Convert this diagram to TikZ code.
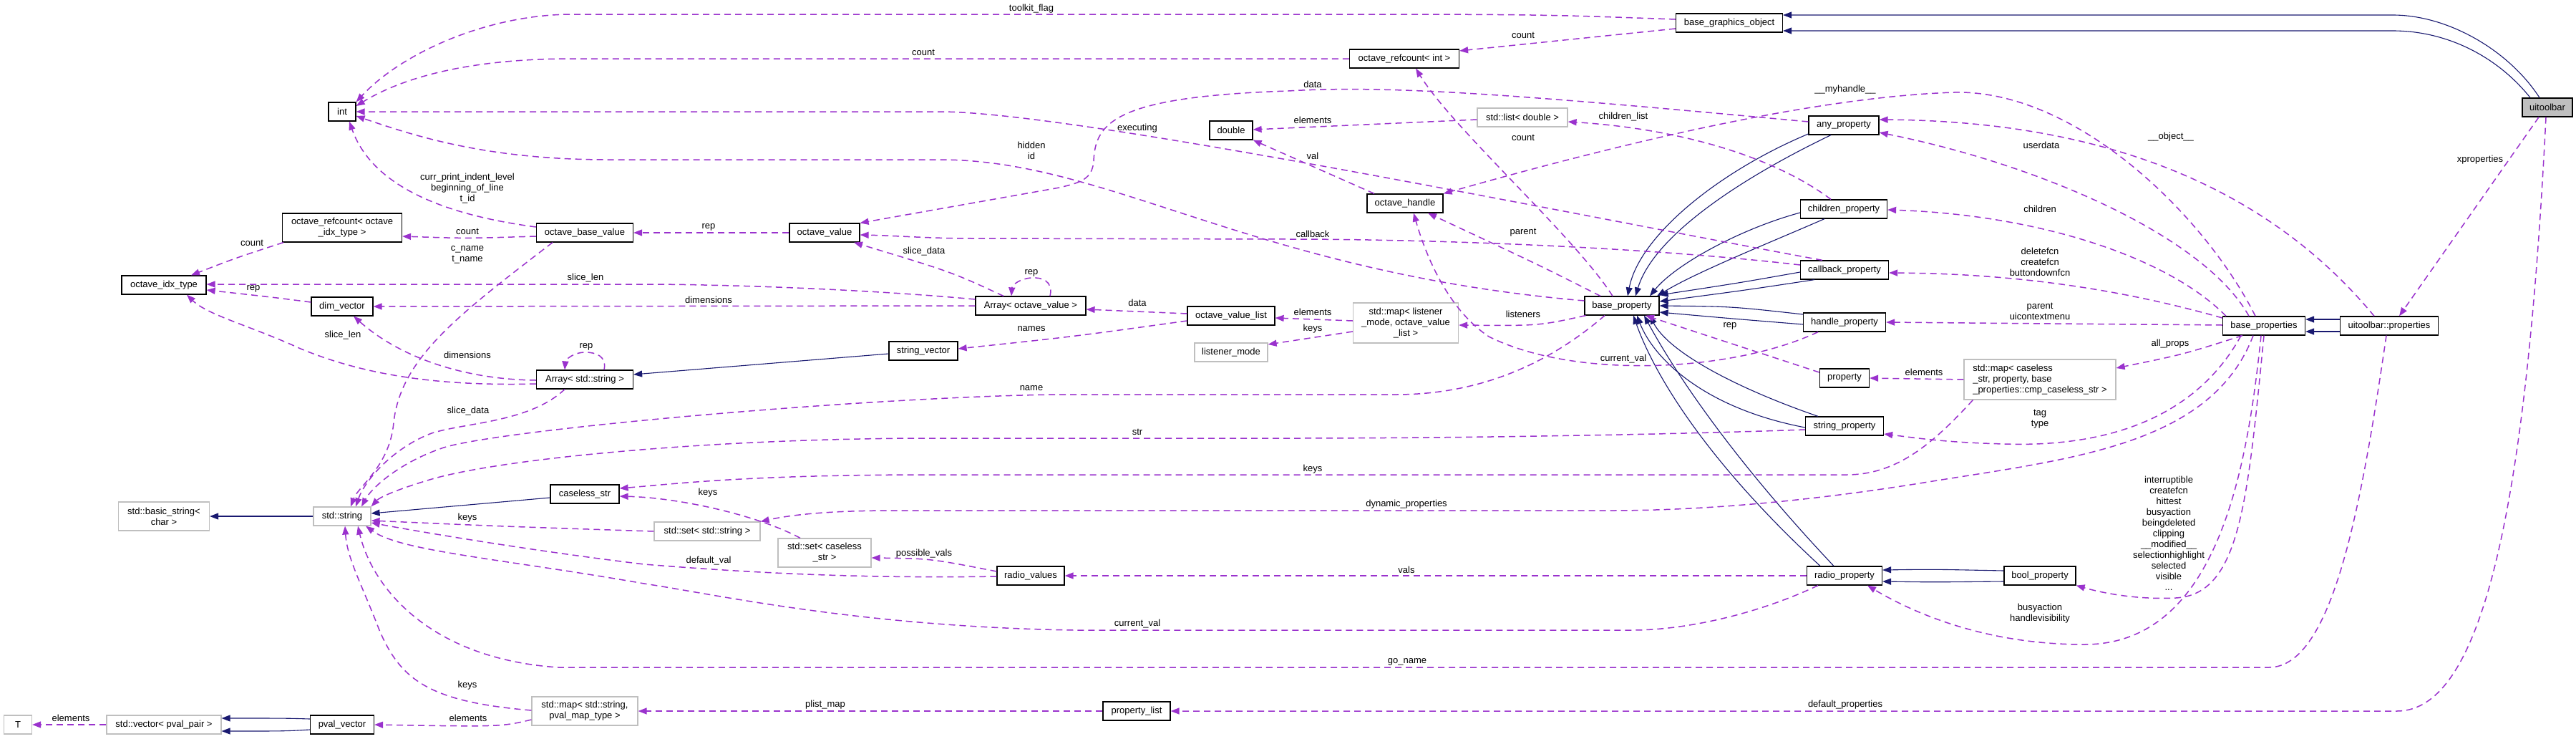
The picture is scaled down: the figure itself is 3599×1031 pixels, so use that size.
\documentclass[tikz,border=0pt]{standalone}
\usepackage{fontspec}
\setmainfont{Liberation Sans}
\usetikzlibrary{arrows.meta}
\definecolor{usecol}{HTML}{9A32CD}
\definecolor{inhcol}{HTML}{191970}
\definecolor{extgrey}{HTML}{BFBFBF}
\tikzstyle{cls} = [rectangle, draw=black, line width=1.2pt, fill=white, minimum height=26pt, inner sep=2pt, align=center]
\tikzstyle{extcls} = [cls, draw=extgrey]
\tikzstyle{curcls} = [cls, fill=extgrey]
\tikzstyle{dep} = [draw=usecol, line width=1.5pt, dash pattern=on 9pt off 6pt, -{Triangle[length=12pt,width=9pt]}, fill=none]
\tikzstyle{inh} = [draw=inhcol, line width=1.1pt, -{Triangle[length=12pt,width=9pt]}]
\tikzstyle{lbl} = [inner sep=0pt, align=center]

\begin{document}
\begin{tikzpicture}[x=1pt, y=-1pt, font=\fontsize{13}{15}\selectfont]
\useasboundingbox (0,0) rectangle (3599,1031);

% classes
\node (int) [cls, minimum width=38pt] at (478,156) {int};
\node (orefidx) [cls, minimum width=167pt, minimum height=40pt] at (478,318) {octave\_refcount< octave\\\_idx\_type >};
\node (obv) [cls, minimum width=135pt] at (817,325) {octave\_base\_value};
\node (oidx) [cls, minimum width=118pt] at (229,398) {octave\_idx\_type};
\node (dimv) [cls, minimum width=86pt] at (478,428) {dim\_vector};
\node (arrstr) [cls, minimum width=135pt] at (817,530) {Array< std::string >};
\node (stdstr) [extcls, minimum width=80pt] at (478,721) {std::string};
\node (bstr) [extcls, minimum width=127pt, minimum height=40pt] at (229,721) {std::basic\_string<\\char >};
\node (cstr) [cls, minimum width=96pt] at (817,690) {caseless\_str};
\node (setstr) [extcls, minimum width=148pt] at (988,742) {std::set< std::string >};
\node (setcstr) [extcls, minimum width=130pt, minimum height=40pt] at (1152,772) {std::set< caseless\\\_str >};
\node (rvals) [cls, minimum width=94pt] at (1440,804) {radio\_values};
\node (plist) [cls, minimum width=94pt] at (1588,993) {property\_list};
\node (mappval) [extcls, minimum width=148pt, minimum height=40pt] at (817,993) {std::map< std::string,\\pval\_map\_type >};
\node (pvalv) [cls, minimum width=89pt] at (478,1012) {pval\_vector};
\node (vecpp) [extcls, minimum width=160pt] at (229,1012) {std::vector< pval\_pair >};
\node (tpar) [extcls, minimum width=39pt] at (25,1012) {T};
\node (oval) [cls, minimum width=98pt] at (1152,325) {octave\_value};
\node (arrov) [cls, minimum width=154pt] at (1440,427) {Array< octave\_value >};
\node (svec) [cls, minimum width=96pt] at (1290,490) {string\_vector};
\node (ovl) [cls, minimum width=122pt] at (1720,441) {octave\_value\_list};
\node (lmode) [extcls, minimum width=102pt] at (1720,492) {listener\_mode};
\node (dbl) [cls, minimum width=60pt] at (1720,182) {double};
\node (orefint) [cls, minimum width=153pt] at (1962,82) {octave\_refcount< int >};
\node (listd) [extcls, minimum width=126pt] at (2127,164) {std::list< double >};
\node (ohandle) [cls, minimum width=106pt] at (1963,284) {octave\_handle};
\node (maplis) [extcls, minimum width=147pt, minimum height=56pt] at (1964,451) {std::map< listener\\\_mode, octave\_value\\\_list >};
\node (bprop) [cls, minimum width=104pt] at (2266,427) {base\_property};
\node (bgo) [cls, minimum width=149pt] at (2416,32) {base\_graphics\_object};
\node (anyp) [cls, minimum width=98pt] at (2576,175) {any\_property};
\node (childp) [cls, minimum width=121pt] at (2576,292) {children\_property};
\node (cbp) [cls, minimum width=123pt] at (2577,377) {callback\_property};
\node (hp) [cls, minimum width=115pt] at (2577,450) {handle\_property};
\node (prop) [cls, minimum width=69pt] at (2577,528) {property};
\node (sp) [cls, minimum width=109pt] at (2577,595) {string\_property};
\node (rp) [cls, minimum width=105pt] at (2577,804) {radio\_property};
\node (boolp) [cls, minimum width=100pt] at (2850,804) {bool\_property};
\node (mapcs) [extcls, minimum width=212pt, minimum height=56pt, align=left] at (2850,530) {std::map< caseless\\\_str, property, base\\\_properties::cmp\_caseless\_str >};
\node (bps) [cls, minimum width=115pt] at (3163,455) {base\_properties};
\node (utp) [cls, minimum width=137pt] at (3338,455) {uitoolbar::properties};
\node (uit) [curcls, minimum width=70pt] at (3559,150) {uitoolbar};

% inheritance
\draw [inh] ([xshift=-11pt]uit.north) .. controls (3505,70) and (3420,21) .. (3343,21) -- ([yshift=11pt]bgo.east);
\draw [inh] ([xshift=-24pt]uit.north) .. controls (3490,80) and (3420,43) .. (3343,43) -- ([yshift=-11pt]bgo.east);
\draw [inh] ([yshift=9pt]utp.west) -- ([yshift=9pt]bps.east);
\draw [inh] ([yshift=-8pt]utp.west) -- ([yshift=-8pt]bps.east);
\draw [inh] ([yshift=-4pt]svec.west) -- ([yshift=7pt]arrstr.east);
\draw [inh] ([yshift=-5pt]cstr.west) -- ([yshift=4pt]stdstr.east);
\draw [inh] (stdstr.west) -- (bstr.east);
\draw [inh] ([yshift=8pt]pvalv.west) .. controls (400,1003) .. ([yshift=9pt]vecpp.east);
\draw [inh] ([yshift=-7pt]pvalv.west) .. controls (400,1021) .. ([yshift=-9pt]vecpp.east);
\draw [inh] ([yshift=-12pt]anyp.west) .. controls (2400,240) and (2290,330) .. ([xshift=8pt]bprop.north);
\draw [inh] ([xshift=-18pt]anyp.south) .. controls (2430,250) and (2310,330) .. ([xshift=19pt]bprop.north);
\draw [inh] ([yshift=-5pt]childp.west) .. controls (2430,320) and (2340,370) .. ([xshift=39pt]bprop.north);
\draw [inh] ([xshift=-27pt]childp.south) .. controls (2470,340) and (2370,380) .. ([xshift=49pt]bprop.north);
\draw [inh] ([yshift=-3pt]cbp.west) .. controls (2430,395) .. ([yshift=15pt]bprop.east);
\draw [inh] ([xshift=-42pt]cbp.south) .. controls (2440,405) .. ([yshift=6pt]bprop.east);
\draw [inh] ([yshift=11pt]hp.west) .. controls (2420,428) .. (bprop.east);
\draw [inh] ([yshift=-3pt]hp.west) .. controls (2420,445) .. ([yshift=-9pt]bprop.east);
\draw [inh] ([xshift=-37pt]sp.north) .. controls (2420,540) and (2330,490) .. ([xshift=39pt]bprop.south);
\draw [inh] ([yshift=-2pt]sp.west) .. controls (2380,570) and (2310,500) .. ([xshift=21pt]bprop.south);
\draw [inh] ([xshift=-34pt]rp.north) .. controls (2380,640) and (2310,520) .. ([xshift=16pt]bprop.south);
\draw [inh] ([xshift=-15pt]rp.north) .. controls (2420,640) and (2340,520) .. ([xshift=31pt]bprop.south);
\draw [inh] ([yshift=7pt]boolp.west) .. controls (2700,795) .. ([yshift=8pt]rp.east);
\draw [inh] ([yshift=-8pt]boolp.west) .. controls (2700,813) .. ([yshift=-8pt]rp.east);

% usage
\draw [dep] ([yshift=5pt]bgo.west) .. controls (2150,20) .. (1800,20) -- (800,20) .. controls (680,20) and (560,75) .. (int.north east);
\draw [dep] (orefint.west) -- (800,82) .. controls (650,82) and (560,110) .. ([yshift=8pt]int.east);
\draw [dep] ([xshift=-31pt]cbp.north) .. controls (2200,300) and (1500,156) .. (1313,156) -- (int.east);
\draw [dep] ([yshift=7pt]bprop.west) .. controls (1750,380) and (1550,223) .. (1313,223) -- (850,223) .. controls (680,223) and (580,190) .. ([yshift=-6pt]int.east);
\draw [dep] ([yshift=8pt]obv.west) .. controls (620,300) and (520,260) .. ([xshift=10pt]int.south);
\draw [dep] ([yshift=-5pt]obv.west) .. controls (650,333) .. ([yshift=-12pt]orefidx.east);
\draw [dep] ([xshift=-82pt]orefidx.south) .. controls (330,360) .. ([xshift=38pt]oidx.north);
\draw [dep] (oval.west) -- (obv.east);
\draw [dep] ([yshift=5pt]anyp.west) .. controls (2150,135) and (1950,118) .. (1800,127) .. controls (1560,135) and (1530,170) .. (1528,225) .. controls (1526,250) and (1510,255) .. (1480,262) -- (oval.north east);
\draw [dep] ([yshift=7pt]cbp.west) .. controls (2300,345) and (2000,334) .. (1800,334) -- (1360,333) .. controls (1300,333) and (1250,329) .. ([yshift=-3pt]oval.east);
\draw [dep] ([xshift=-38pt]arrov.north) .. controls (1330,380) .. ([xshift=41pt]oval.south);
\draw [dep] ([xshift=27pt]arrov.north) .. controls (1472,392) and (1455,387) .. (1441,388) .. controls (1425,389) and (1414,398) .. ([xshift=-27pt]arrov.north);
\draw [dep] ([yshift=9pt]arrov.west) .. controls (1200,403) and (1000,397) .. (900,397) -- ([yshift=1pt]oidx.east);
\draw [dep] (arrov.west) -- (dimv.east);
\draw [dep] ([yshift=6pt]dimv.west) .. controls (380,415) .. ([yshift=-7pt]oidx.east);
\draw [dep] ([yshift=-6pt]arrstr.west) .. controls (600,540) and (500,520) .. (420,487) .. controls (350,455) and (290,440) .. ([xshift=32pt]oidx.south);
\draw [dep] ([yshift=-1pt]arrstr.west) .. controls (650,530) and (560,500) .. ([xshift=16pt]dimv.south);
\draw [dep] ([xshift=27pt]arrstr.north) .. controls (848,497) and (832,492) .. (818,492) .. controls (800,492) and (790,503) .. ([xshift=-28pt]arrstr.north);
\draw [dep] ([xshift=-28pt]arrstr.south) .. controls (740,590) and (650,590) .. (603,605) .. controls (550,625) and (510,670) .. ([xshift=19pt]stdstr.north);
\draw [dep] ([xshift=-45pt]obv.south) .. controls (640,440) and (560,500) .. (550,590) .. controls (545,650) and (500,680) .. ([xshift=12pt]stdstr.north);
\draw [dep] ([yshift=-7pt]ovl.west) .. controls (1500,470) .. ([yshift=3pt]svec.east);
\draw [dep] ([yshift=3pt]ovl.west) -- ([yshift=-5pt]arrov.east);
\draw [dep] ([yshift=3pt]maplis.west) -- ([yshift=-3pt]ovl.east);
\draw [dep] ([yshift=-12pt]maplis.west) -- ([yshift=11pt]lmode.east);
\draw [dep] ([xshift=2pt]bprop.south west) .. controls (2150,455) .. ([yshift=-3pt]maplis.east);
\draw [dep] ([yshift=-3pt]listd.west) -- ([yshift=1pt]dbl.east);
\draw [dep] ([xshift=-43pt]ohandle.north) -- (dbl.south east);
\draw [dep] ([xshift=-18pt]childp.north) .. controls (2480,220) and (2350,180) .. ([yshift=-6pt]listd.east);
\draw [dep] ([yshift=-8pt]bgo.west) -- ([yshift=11pt]orefint.east);
\draw [dep] ([xshift=-13pt]bprop.north) .. controls (2200,330) and (2030,180) .. ([xshift=16pt]orefint.south);
\draw [dep] ([xshift=-12pt]bps.north) .. controls (3080,300) and (2900,125) .. (2730,129) .. controls (2550,135) and (2300,190) .. (ohandle.north east);
\draw [dep] ([xshift=-30pt]bprop.north) .. controls (2150,370) .. ([xshift=32pt]ohandle.south);
\draw [dep] ([xshift=-37pt]hp.south) .. controls (2420,520) and (2200,530) .. (2080,470) .. controls (2020,430) and (1990,350) .. ([xshift=12pt]ohandle.south);
\draw [dep] ([xshift=-24pt]bprop.south) .. controls (2150,520) and (2050,551) .. (1950,551) -- (1474,551) .. controls (1200,555) and (700,600) .. (620,625) .. controls (560,645) and (520,680) .. ([xshift=27pt]stdstr.north);
\draw [dep] ([yshift=-5pt]sp.west) .. controls (2300,608) and (2000,612) .. (1800,612) -- (1300,612) .. controls (1000,612) and (700,640) .. (600,670) .. controls (550,685) and (530,695) .. (stdstr.north east);
\draw [dep] ([xshift=13pt]mapcs.south west) .. controls (2700,620) and (2650,663) .. (2580,663) -- (1300,663) .. controls (1050,663) and (950,675) .. ([yshift=8pt]cstr.east);
\draw [dep] ([xshift=-34pt]setcstr.north) .. controls (1060,720) and (950,695) .. ([yshift=-3pt]cstr.east);
\draw [dep] (setstr.west) .. controls (700,735) .. ([yshift=-6pt]stdstr.east);
\draw [dep] ([xshift=-15pt]bps.south) .. controls (3090,620) and (2900,640) .. (2700,672) .. controls (2500,705) and (2350,713) .. (2250,713) -- (1250,713) .. controls (1150,713) and (1100,720) .. (setstr.north east);
\draw [dep] ([xshift=-32pt]bps.south) .. controls (3070,580) and (2950,625) .. (2800,620) .. controls (2720,618) and (2680,612) .. ([yshift=-11pt]sp.east);
\draw [dep] ([xshift=-30pt]bps.south) .. controls (3050,495) .. ([yshift=16pt]mapcs.east);
\draw [dep] (mapcs.west) -- (prop.east);
\draw [dep] ([yshift=8pt]prop.west) -- ([xshift=33pt]bprop.south);
\draw [dep] ([yshift=11pt]bps.west) .. controls (2950,400) and (2800,382) .. ([yshift=-4pt]cbp.east);
\draw [dep] ([yshift=1pt]bps.west) -- (hp.east);
\draw [dep] ([xshift=-53pt]bps.north) .. controls (3030,360) and (2850,300) .. ([yshift=-1pt]childp.east);
\draw [dep] ([xshift=-21pt]bps.north) .. controls (3080,330) and (2850,230) .. ([yshift=-10pt]anyp.east);
\draw [dep] ([xshift=-21pt]utp.north) .. controls (3200,300) and (3000,170) .. ([yshift=8pt]anyp.east);
\draw [dep] ([xshift=-12pt]uit.south) -- ([xshift=14pt]utp.north);
\draw [dep] ([xshift=-4pt]utp.south) .. controls (3300,700) and (3260,932) .. (3170,932) -- (780,932) .. controls (600,920) and (520,820) .. ([xshift=22pt]stdstr.south);
\draw [dep] ([xshift=-2pt]uit.south) .. controls (3530,700) and (3470,993) .. (3349,993) -- (plist.east);
\draw [dep] (plist.west) -- (mappval.east);
\draw [dep] ([yshift=1pt]mappval.west) .. controls (600,980) and (560,950) .. (530,880) .. controls (505,815) and (485,780) .. ([xshift=4pt]stdstr.south);
\draw [dep] ([yshift=-12pt]mappval.west) .. controls (700,1015) .. (pvalv.east);
\draw [dep] (vecpp.west) -- (tpar.east);
\draw [dep] (rp.west) -- (rvals.east);
\draw [dep] ([yshift=6pt]rvals.west) .. controls (1300,780) .. ([yshift=-7pt]setcstr.east);
\draw [dep] ([yshift=-1pt]rvals.west) .. controls (1200,808) and (1050,800) .. (900,788) .. controls (750,770) and (600,745) .. ([yshift=-9pt]stdstr.east);
\draw [dep] ([xshift=-37pt]rp.south) .. controls (2450,860) and (2350,880) .. (2280,880) -- (1500,880) .. controls (1200,875) and (1000,830) .. (900,815) .. controls (700,780) and (560,770) .. ([xshift=33pt]stdstr.south);
\draw [dep] ([xshift=-4pt]bps.south) .. controls (3140,650) and (3100,900) .. (2912,900) .. controls (2780,900) and (2680,860) .. ([xshift=32pt]rp.south);
\draw [dep] (bps.south) .. controls (3140,700) and (3130,830) .. (3040,835) .. controls (2980,838) and (2930,826) .. (boolp.south east);

% labels
\node (ltoolkit) [lbl] at (1441,12) {toolkit\_flag};
\node (lcnta) [lbl] at (1290,73) {count};
\node (lcntb) [lbl] at (2128,49) {count};
\node (ldataa) [lbl] at (1834,118) {data};
\node (lmyh) [lbl] at (2578,125) {\_\_myhandle\_\_};
\node (lelema) [lbl] at (1834,168) {elements};
\node (lchl) [lbl] at (2268,163) {children\_list};
\node (lexec) [lbl] at (1589,179) {executing};
\node (lcntc) [lbl] at (2128,192) {count};
\node (lhid) [lbl] at (1441,210) {hidden\\id};
\node (lval) [lbl] at (1834,218) {val};
\node (luser) [lbl] at (2852,203) {userdata};
\node (lobj) [lbl] at (3033,191) {\_\_object\_\_};
\node (lxprop) [lbl] at (3465,223) {xproperties};
\node (lcurr) [lbl] at (653,263) {curr\_print\_indent\_level\\beginning\_of\_line\\t\_id};
\node (lchild) [lbl] at (2850,292) {children};
\node (lcntd) [lbl] at (653,323) {count};
\node (lrepa) [lbl] at (990,317) {rep};
\node (lpar) [lbl] at (2128,325) {parent};
\node (lcb) [lbl] at (1834,327) {callback};
\node (lcnte) [lbl] at (352,339) {count};
\node (lcname) [lbl] at (653,356) {c\_name\\t\_name};
\node (lsda) [lbl] at (1291,351) {slice\_data};
\node (ldel) [lbl] at (2850,366) {deletefcn\\createfcn\\buttondownfcn};
\node (lrepb) [lbl] at (1441,381) {rep};
\node (lsla) [lbl] at (818,388) {slice\_len};
\node (lrepc) [lbl] at (354,403) {rep};
\node (ldima) [lbl] at (990,419) {dimensions};
\node (ldatab) [lbl] at (1589,423) {data};
\node (lelemb) [lbl] at (1834,436) {elements};
\node (llis) [lbl] at (2128,439) {listeners};
\node (lparui) [lbl] at (2850,435) {parent\\uicontextmenu};
\node (lrepd) [lbl] at (2417,455) {rep};
\node (lkeysa) [lbl] at (1834,459) {keys};
\node (lnames) [lbl] at (1441,459) {names};
\node (lslb) [lbl] at (479,468) {slice\_len};
\node (lallp) [lbl] at (3032,480) {all\_props};
\node (lrepe) [lbl] at (819,484) {rep};
\node (ldimb) [lbl] at (653,496) {dimensions};
\node (lcva) [lbl] at (2268,501) {current\_val};
\node (lelemc) [lbl] at (2688,520) {elements};
\node (lname) [lbl] at (1441,542) {name};
\node (lsdb) [lbl] at (654,574) {slice\_data};
\node (ltag) [lbl] at (2850,585) {tag\\type};
\node (lstr) [lbl] at (1589,603) {str};
\node (lkeysb) [lbl] at (1834,655) {keys};
\node (lkeysc) [lbl] at (989,688) {keys};
\node (ldyn) [lbl] at (1965,704) {dynamic\_properties};
\node (lkeysd) [lbl] at (653,723) {keys};
\node (lintr) [lbl] at (3030,745) {interruptible\\createfcn\\hittest\\busyaction\\beingdeleted\\clipping\\\_\_modified\_\_\\selectionhighlight\\selected\\visible\\...};
\node (lposs) [lbl] at (1291,773) {possible\_vals};
\node (ldefv) [lbl] at (990,783) {default\_val};
\node (lvals) [lbl] at (1965,796) {vals};
\node (lbusy) [lbl] at (2850,857) {busyaction\\handlevisibility};
\node (lcvb) [lbl] at (1589,871) {current\_val};
\node (lgo) [lbl] at (1966,924) {go\_name};
\node (lkeyse) [lbl] at (653,957) {keys};
\node (lplm) [lbl] at (1153,984) {plist\_map};
\node (ldefp) [lbl] at (2578,984) {default\_properties};
\node (lelemd) [lbl] at (654,1003) {elements};
\node (leleme) [lbl] at (99,1003) {elements};

\end{tikzpicture}
\end{document}
